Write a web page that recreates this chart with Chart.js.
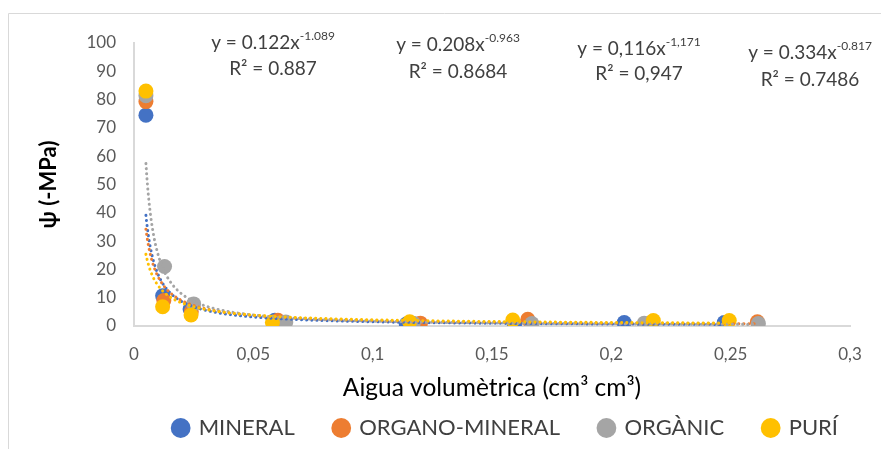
<!DOCTYPE html>
<html>
<head>
<meta charset="utf-8">
<script src="https://cdn.jsdelivr.net/npm/chart.js@4.4.1/dist/chart.umd.min.js"></script>
<style>
  html, body { margin: 0; padding: 0; background: #fff; }
  #wrap { width: 881px; height: 449px; position: relative; }
</style>
</head>
<body>
<div id="wrap"><canvas id="chart" width="881" height="449"></canvas></div>
<script>
// Series names and colours
const seriesNames = ["MINERAL", "ORGANO-MINERAL", "ORGÀNIC", "PURÍ"];
const seriesColors = ["#4472C4", "#ED7D31", "#A5A5A5", "#FFC000"];

// Measured points (water content, psi)
const mineralX = [0.005, 0.012, 0.0235, 0.059, 0.1141, 0.1594, 0.2054, 0.2473];
const mineralY = [74.5, 10.7, 6, 2, 0.7, 0.4, 1.2, 1.2];
const organoX = [0.005, 0.0125, 0.024, 0.0603, 0.120, 0.165, 0.2162, 0.2612];
const organoY = [79.3, 9, 5, 2, 1, 2.4, 1, 1.5];
const organicX = [0.005, 0.0128, 0.025, 0.0636, 0.117, 0.1667, 0.2138, 0.2616];
const organicY = [81.4, 21, 7.8, 1.4, 1, 0.9, 1, 0.9];
const puriX = [0.005, 0.012, 0.0239, 0.058, 0.1155, 0.1587, 0.2176, 0.2494];
const puriY = [83, 6.8, 3.9, 1.3, 1.5, 2.1, 1.9, 1.9];

// Power trendlines as printed on the chart: y = a * x^b
const trendA = [0.122, 0.208, 0.116, 0.334];
const trendB = [-1.089, -0.963, -1.171, -0.817];

// Equation labels
const eqMain = ["y = 0.122x", "y = 0.208x", "y = 0,116x", "y = 0.334x"];
const eqPow = ["-1.089", "-0.963", "-1,171", "-0.817"];
const eqR2 = ["R² = 0.887", "R² = 0.8684", "R² = 0,947", "R² = 0.7486"];

// Axis ticks
const xTicks = [0, 0.05, 0.1, 0.15, 0.2, 0.25, 0.3];
const yTicks = [0, 10, 20, 30, 40, 50, 60, 70, 80, 90, 100];

const allX = [mineralX, organoX, organicX, puriX];
const allY = [mineralY, organoY, organicY, puriY];

function toPoints(xs, ys) {
  return xs.map((x, i) => ({ x: x, y: ys[i] }));
}

// Curve of the printed equation across the range of each series
function trendPoints(k) {
  const xs = allX[k];
  const lo = Math.min(...xs), hi = Math.max(...xs);
  const pts = [];
  const n = 120;
  for (let i = 0; i <= n; i++) {
    const x = lo * Math.pow(hi / lo, i / n);
    pts.push({ x: x, y: trendA[k] * Math.pow(x, trendB[k]) });
  }
  return pts;
}

const datasets = [];
for (let k = 0; k < 4; k++) {
  datasets.push({
    type: "scatter",
    label: seriesNames[k],
    data: toPoints(allX[k], allY[k]),
    backgroundColor: seriesColors[k],
    borderColor: seriesColors[k],
    borderWidth: 0,
    pointRadius: 7.5,
    order: 4 - k
  });
}
for (let k = 0; k < 4; k++) {
  datasets.push({
    type: "line",
    label: "trend " + seriesNames[k],
    data: trendPoints(k),
    borderColor: seriesColors[k],
    borderWidth: 3,
    borderDash: [0.1, 5],
    borderCapStyle: "round",
    pointRadius: 0,
    fill: false,
    tension: 0,
    order: -k
  });
}

// Light frame around the chart (as in the spreadsheet export)
const framePlugin = {
  id: "frame",
  beforeDraw(chart) {
    const ctx = chart.ctx;
    ctx.save();
    ctx.strokeStyle = "#d9d9d9";
    ctx.lineWidth = 1;
    ctx.beginPath();
    ctx.moveTo(8.5, 449);
    ctx.lineTo(8.5, 13.5);
    ctx.lineTo(881, 13.5);
    ctx.stroke();
    ctx.restore();
  }
};

// Trendline equations
const eqCenters = [273, 458, 639, 810];
const eqLine1 = [43, 45, 49, 53];
const eqLine2 = [69, 72, 74, 80];

const equationPlugin = {
  id: "equations",
  afterDraw(chart) {
    const ctx = chart.ctx;
    ctx.save();
    ctx.fillStyle = "#404040";
    ctx.textBaseline = "middle";
    ctx.textAlign = "left";
    for (let k = 0; k < 4; k++) {
      ctx.font = "19px Lato";
      const w1 = ctx.measureText(eqMain[k]).width;
      ctx.font = "12px Lato";
      const w2 = ctx.measureText(eqPow[k]).width;
      const left = eqCenters[k] - (w1 + w2) / 2;
      ctx.font = "19px Lato";
      ctx.fillText(eqMain[k], left, eqLine1[k]);
      ctx.font = "12px Lato";
      ctx.fillText(eqPow[k], left + w1, eqLine1[k] - 7);
      ctx.font = "19px Lato";
      ctx.textAlign = "center";
      ctx.fillText(eqR2[k], eqCenters[k], eqLine2[k]);
      ctx.textAlign = "left";
    }
    ctx.restore();
  }
};

function commaLabel(v) {
  return String(Number(v.toFixed(2))).replace(".", ",");
}

const ctx = document.getElementById("chart").getContext("2d");
const chart = new Chart(ctx, {
  type: "scatter",
  data: { datasets: datasets },
  options: {
    responsive: false,
    animation: false,
    events: [],
    layout: { padding: { top: 43, right: 31, left: 0, bottom: 0 } },
    scales: {
      x: {
        type: "linear",
        min: xTicks[0],
        max: xTicks[xTicks.length - 1],
        afterBuildTicks(scale) { scale.ticks = xTicks.map(v => ({ value: v })); },
        afterFit(scale) { scale.height = 79; },
        grid: { display: false, drawTicks: false },
        border: { display: true, color: "#d9d9d9", width: 2 },
        ticks: {
          padding: 18,
          color: "#595959",
          font: { family: "Lato", size: 17 },
          callback: (v) => commaLabel(v)
        },
        title: {
          display: true,
          text: "Aigua volumètrica (cm³ cm³)",
          color: "#000000",
          font: { family: "Lato", size: 24.5 },
          padding: { top: 0, bottom: 2 }
        }
      },
      y: {
        type: "linear",
        min: yTicks[0],
        max: yTicks[yTicks.length - 1],
        afterBuildTicks(scale) { scale.ticks = yTicks.map(v => ({ value: v })); },
        afterFit(scale) { scale.width = 134; },
        grid: { display: false, drawTicks: false },
        border: { display: true, color: "#d9d9d9", width: 2 },
        ticks: {
          padding: 18,
          color: "#595959",
          font: { family: "Lato", size: 17 },
          callback: (v) => String(v)
        },
        title: {
          display: true,
          text: "ψ (-MPa)",
          color: "#000000",
          font: { family: "Lato", size: 22, weight: "bold" },
          padding: { top: 36, bottom: 0 }
        }
      }
    },
    plugins: {
      tooltip: { enabled: false },
      legend: {
        position: "bottom",
        align: "end",
        labels: {
          usePointStyle: true,
          pointStyle: "circle",
          boxWidth: 14,
          boxHeight: 14,
          padding: 12,
          color: "#404040",
          font: { family: "Lato", size: 22 },
          filter: (item) => item.datasetIndex < 4,
          sort: (a, b) => a.datasetIndex - b.datasetIndex,
          generateLabels(chart) {
            const items = Chart.defaults.plugins.legend.labels.generateLabels(chart);
            items.forEach((it) => {
              if (it.datasetIndex < 3) it.text = it.text + "\u2003\u2002";
            });
            return items;
          }
        }
      }
    }
  },
  plugins: [framePlugin, equationPlugin]
});
</script>
</body>
</html>
